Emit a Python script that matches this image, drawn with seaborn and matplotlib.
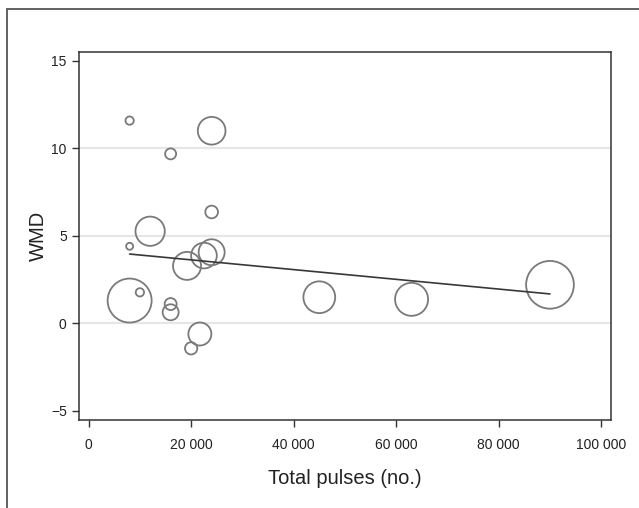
import matplotlib
matplotlib.use("Agg")
import matplotlib.pyplot as plt
import matplotlib.ticker as mticker
import numpy as np
import pandas as pd
import seaborn as sns
from matplotlib.patches import Rectangle

# ------------------------------------------------------------------
# Data: meta-regression of WMD on total pulses (bubble = study weight)
# ------------------------------------------------------------------
total_pulses = [8000, 24000, 16000, 24000, 12000, 8000, 24000, 22500, 19200,
                8000, 10000, 16000, 16000, 21700, 20000, 45000, 63000, 90000]
wmd = [11.58, 11.0, 9.68, 6.36, 5.26, 4.40, 4.06, 3.87, 3.28,
       1.30, 1.77, 1.10, 0.63, -0.61, -1.43, 1.49, 1.37, 2.20]
weight = [0.69, 7.67, 1.21, 1.61, 8.58, 0.49, 6.76, 6.60, 7.84,
          19.36, 0.69, 1.44, 2.56, 5.29, 1.51, 10.1, 10.9, 22.8]

# fitted meta-regression line
fit_intercept = 4.18
fit_slope = -2.78e-5

x_ticks = [0, 20000, 40000, 60000, 80000, 100000]
y_ticks = [-5, 0, 5, 10, 15]

df = pd.DataFrame({"pulses": total_pulses, "wmd": wmd, "weight": weight})

# ------------------------------------------------------------------
# Plot
# ------------------------------------------------------------------
sns.set_style("white")
plt.rcParams["font.family"] = ["Liberation Sans", "DejaVu Sans"]

fig = plt.figure(figsize=(6.39, 5.08), dpi=100)
ax = fig.add_axes([0.124, 0.173, 0.832, 0.725])

# area per weight unit in pt^2 (so marker area stays proportional to weight)
k = (0.72 * 10) ** 2
sns.scatterplot(
    data=df, x="pulses", y="wmd", size="weight",
    sizes=(df["weight"].min() * k, df["weight"].max() * k),
    facecolor="none", edgecolor="#7a7a7a", linewidth=1.3,
    legend=False, ax=ax, zorder=3,
)

xs = np.array([df["pulses"].min(), df["pulses"].max()])
sns.lineplot(x=xs, y=fit_intercept + fit_slope * xs, color="#383838",
             linewidth=1.2, ax=ax, zorder=4)

ax.set_xlim(-1830, 101880)
ax.set_ylim(-5.53, 15.51)
ax.set_xticks(x_ticks)
ax.set_yticks(y_ticks)
ax.xaxis.set_major_formatter(
    mticker.FuncFormatter(lambda v, p: f"{int(v):,}".replace(",", " "))
)
ax.yaxis.set_major_formatter(
    mticker.FuncFormatter(lambda v, p: f"{int(v)}".replace("-", "\u2212"))
)

ax.yaxis.grid(True, color="#e6e6e6", linewidth=1.5)
for val, gl in zip(y_ticks, ax.get_ygridlines()):
    if val in (-5, 15):
        gl.set_visible(False)
ax.set_axisbelow(True)

for sp in ax.spines.values():
    sp.set_color("#333333")
    sp.set_linewidth(1.1)

ax.tick_params(axis="both", direction="out", length=5, width=1,
               color="#333333", labelsize=10, labelcolor="#222222", pad=4,
               bottom=True, left=True)
ax.tick_params(axis="x", pad=8)

ax.set_xlabel("Total pulses (no.)", fontsize=14.5, color="#222222", labelpad=12)
ax.set_ylabel("WMD", fontsize=14.5, color="#222222", labelpad=2)

# outer frame around the figure (cut at right/bottom)
fig.patches.append(Rectangle((6.5 / 639, -0.1), 1.2, 1 - 9 / 508 + 0.1,
                             transform=fig.transFigure, fill=False,
                             edgecolor="#555555", linewidth=1.3))

fig.savefig("out.png", dpi=100)
